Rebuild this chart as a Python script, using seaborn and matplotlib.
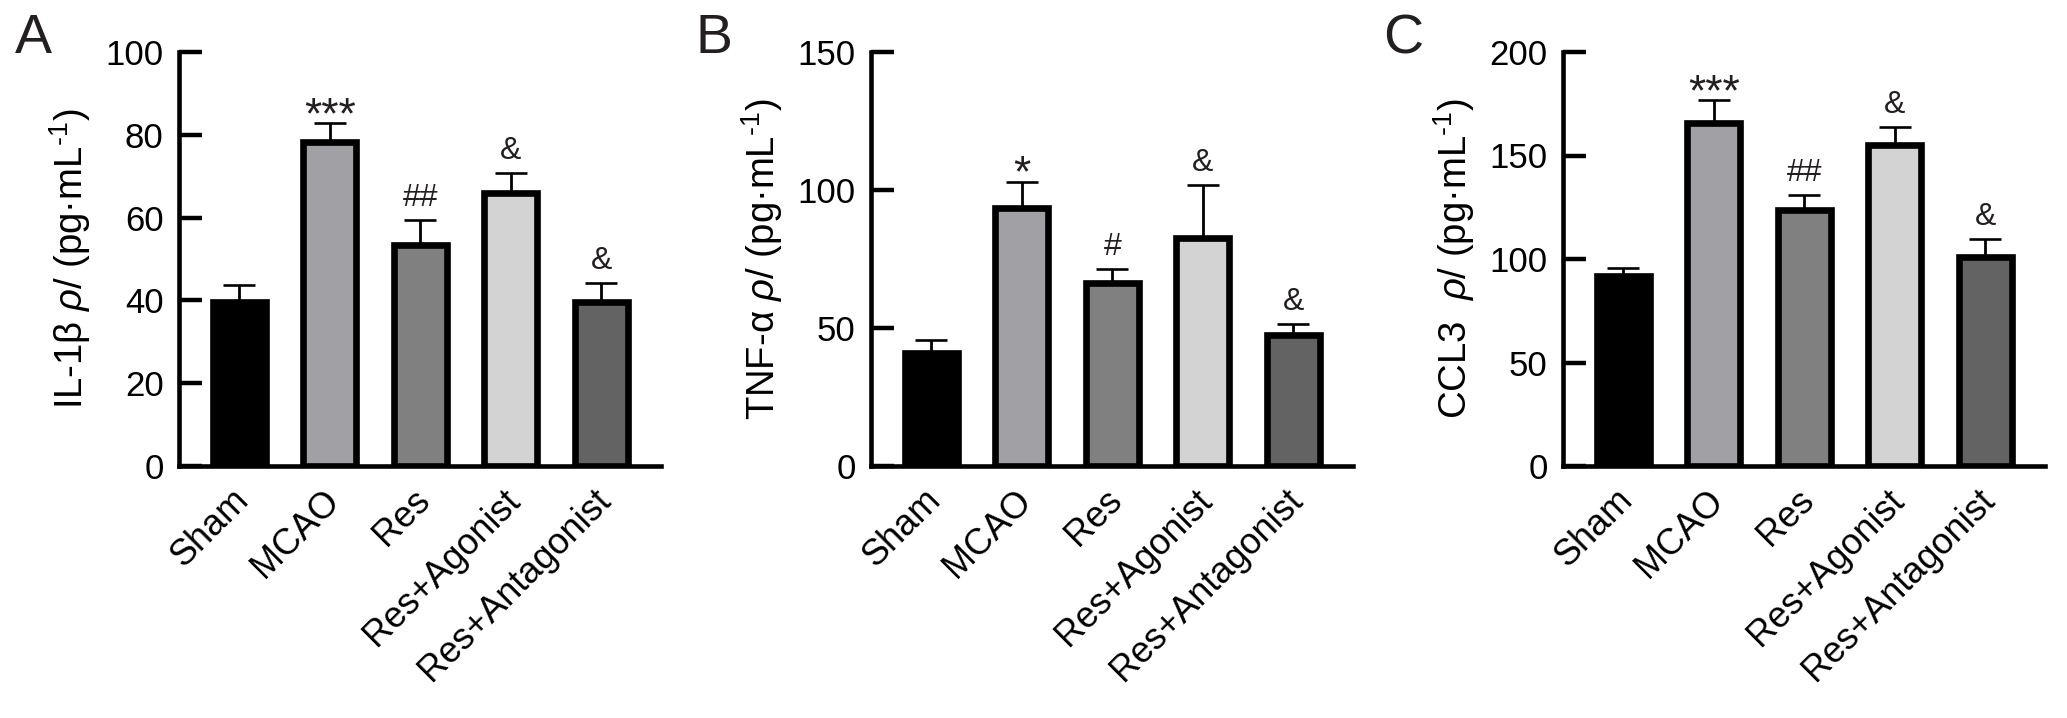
import numpy as np
import pandas as pd
import seaborn as sns
from matplotlib import pyplot as plt
from matplotlib.transforms import ScaledTranslation

groups = ["Sham", "MCAO", "Res", "Res+Agonist", "Res+Antagonist"]
bar_colours = ["#000000", "#a1a1a5", "#808080", "#d3d3d3", "#636363"]

il1b_mean = [39.5, 78.2, 53.3, 65.9, 39.6]
il1b_err = [4.1, 4.6, 6.1, 4.8, 4.6]
il1b_marks = ["", "***", "##", "&", "&"]

tnfa_mean = [41.1, 93.4, 66.3, 82.7, 47.4]
tnfa_err = [4.7, 9.6, 5.1, 19.2, 4.2]
tnfa_marks = ["", "*", "#", "&", "&"]

ccl3_mean = [91.6, 165.8, 123.8, 154.9, 101.1]
ccl3_err = [4.2, 10.9, 7.3, 9.1, 8.5]
ccl3_marks = ["", "***", "##", "&", "&"]

sns.set_style("ticks")
plt.rcParams["font.family"] = ["Liberation Sans", "DejaVu Sans"]
plt.rcParams["mathtext.fontset"] = "custom"
plt.rcParams["mathtext.rm"] = "Liberation Sans"
plt.rcParams["mathtext.it"] = "Liberation Sans:italic"

TXT = "#231f20"
UNIT = r"$\mathit{\rho}$/ (pg·mL$^{\text{-}1}$)"


def draw_panel(ax, means, errs, marks, ylabel, ymax, step):
    df = pd.DataFrame({"group": groups, "value": means})
    sns.barplot(
        data=df, x="group", y="value", hue="group",
        palette=bar_colours, legend=False, width=0.585,
        edgecolor="black", linewidth=4.8, errorbar=None, ax=ax
    )
    ax.errorbar(
        np.arange(len(groups)), means,
        yerr=[np.zeros(len(errs)), errs],
        fmt="none", ecolor="black", elinewidth=2.0,
        capsize=11.5, capthick=1.9, zorder=0.9
    )
    # significance marks above the error bars
    for i, m in enumerate(marks):
        if not m:
            continue
        if m.startswith("*"):
            size, off = 32, -3.5
        else:
            size, off = 23, 10
        ax.annotate(
            m, (i, means[i] + errs[i]), xytext=(0, off),
            textcoords="offset points", ha="center", va="baseline",
            fontsize=size, color=TXT
        )
    ax.set_xlim(-0.664, 4.658)
    ax.set_ylim(0, ymax)
    ax.set_yticks(np.arange(0, ymax + 1, step))
    ax.set_xlabel("")
    ax.set_ylabel(ylabel, fontsize=27.5, labelpad=9, color="black")
    sns.despine(ax=ax)
    for s in ["left", "bottom"]:
        ax.spines[s].set_linewidth(3.3)
        ax.spines[s].set_color("black")
    ax.tick_params(axis="y", direction="in", length=16.5, width=3.2,
                   labelsize=25, pad=11, colors="black")
    ax.tick_params(axis="x", length=0, labelsize=26, pad=12,
                   colors="black")
    shift = ScaledTranslation(-6 / 72, 0, ax.figure.dpi_scale_trans)
    for lab in ax.get_xticklabels():
        lab.set_rotation(45)
        lab.set_ha("right")
        lab.set_rotation_mode("anchor")
        lab.set_transform(lab.get_transform() + shift)


fig = plt.figure(figsize=(20.67, 7.18), dpi=100)
lefts = [179, 871, 1563]
axs = [fig.add_axes([l / 2067, 1 - 466 / 718, 482 / 2067, 414 / 718])
       for l in lefts]

draw_panel(axs[0], il1b_mean, il1b_err, il1b_marks,
           "IL-1β " + UNIT, 100, 20)
draw_panel(axs[1], tnfa_mean, tnfa_err, tnfa_marks,
           "TNF-α " + UNIT, 150, 50)
draw_panel(axs[2], ccl3_mean, ccl3_err, ccl3_marks,
           "CCL3  " + UNIT, 200, 50)

for letter, x in zip("ABC", [15, 695, 1383]):
    fig.text(x / 2067, 1 - 53 / 718, letter, fontsize=40, color=TXT,
             ha="left", va="baseline")

fig.savefig("out.png", dpi=100)
